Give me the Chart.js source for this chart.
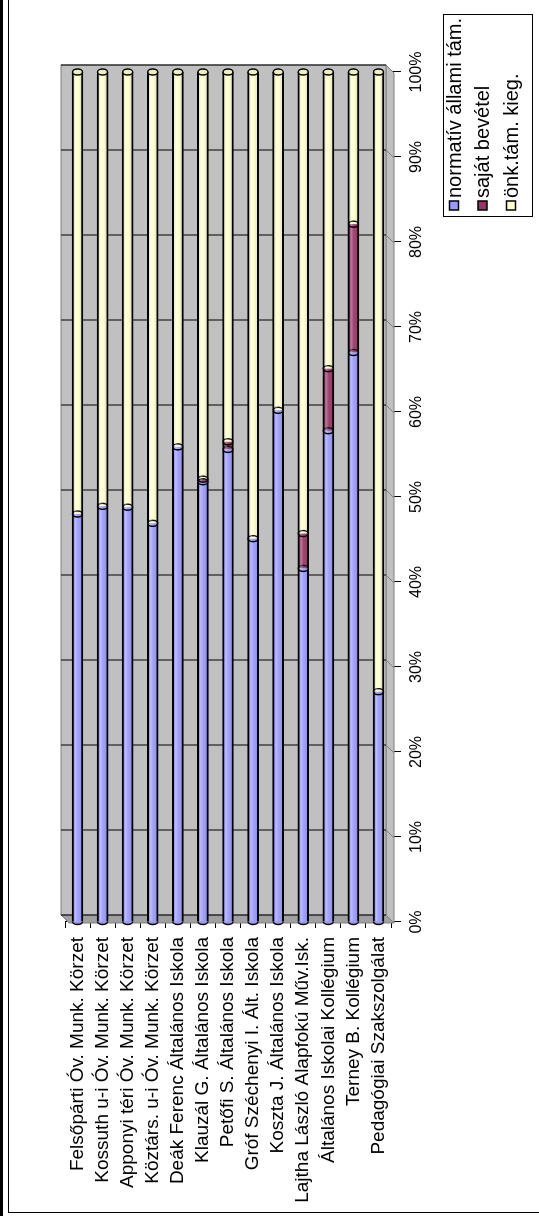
<!DOCTYPE html>
<html>
<head>
<meta charset="utf-8">
<script src="https://cdn.jsdelivr.net/npm/chart.js@4.4.0/dist/chart.umd.min.js"></script>
<style>
  html, body { margin: 0; padding: 0; background: #fff; }
  body { width: 539px; height: 1216px; position: relative; overflow: hidden; }
  #band { position: absolute; left: 0; top: 0; width: 3px; height: 1216px; background: #000; }
  #frame { position: absolute; left: 8px; top: -5px; width: 540px; height: 1218px; box-sizing: border-box;
           border-left: 1.5px solid #000; border-bottom: 1.5px solid #000; }
  #wrap { position: absolute; left: 0; top: 0; width: 1216px; height: 539px;
          transform-origin: 0 0; transform: translate(0, 1216px) rotate(-90deg); }
</style>
</head>
<body>
<div id="band"></div>
<div id="frame"></div>
<div id="wrap"><canvas id="chart"></canvas></div>
<script>
// values (share of each institution's budget, %)
const categories = [
    'Felsőpárti Óv. Munk. Körzet',
    'Kossuth u-i Óv. Munk. Körzet',
    'Apponyi téri Óv. Munk. Körzet',
    'Köztárs. u-i Óv. Munk. Körzet',
    'Deák Ferenc Általános Iskola',
    'Klauzál G. Általános Iskola',
    'Petőfi S. Általános Iskola',
    'Gróf Széchenyi I. Ált. Iskola',
    'Koszta J. Általános Iskola',
    'Lajtha László Alapfokú Műv.Isk.',
    'Általános Iskolai Kollégium',
    'Terney B. Kollégium',
    'Pedagógiai Szakszolgálat'
];
const seriesNames = ['normatív állami tám.', 'saját bevétel', 'önk.tám. kieg.'];
const normativ = [48.0, 48.9, 48.8, 46.9, 55.9, 51.8, 55.6, 45.1, 60.2, 41.6, 57.8, 67.0, 27.1];
const sajat    = [0, 0, 0, 0, 0, 0.3, 0.9, 0, 0, 4.1, 7.3, 15.1, 0];
const onk      = [52.0, 51.1, 51.2, 53.1, 44.1, 47.9, 43.5, 54.9, 39.8, 54.3, 34.9, 17.9, 72.9];
const valueTickLabels = ['0%', '10%', '20%', '30%', '40%', '50%', '60%', '70%', '80%', '90%', '100%'];

const colors = ['#9999FF', '#993366', '#FFFFCC'];
const FAMILY = '"Liberation Sans", Arial, sans-serif';
const LABEL_FONT = { family: FAMILY, size: 19 };
const LEGEND_FONT = { family: FAMILY, size: 20 };
const TICK_FONT = { family: FAMILY, size: 16 };

// the chart is drawn lying on its side and the page turns it, like the scanned sheet

// grey walls of the 3d plot
const wallPlugin = {
    id: 'wall',
    beforeDatasetsDraw(chart) {
        const { ctx, chartArea: a, scales: { x } } = chart;
        const d = 7;
        const u0 = x.getPixelForValue(0), u1 = x.getPixelForValue(100);
        ctx.save();
        // floor
        ctx.fillStyle = '#A0A0A0';
        ctx.beginPath();
        ctx.moveTo(u0 + d, a.top - 4);
        ctx.lineTo(u0 + d, a.bottom - 5);
        ctx.lineTo(u0 - 1, a.bottom + 3);
        ctx.lineTo(u0 - 1, a.top + 4);
        ctx.closePath();
        ctx.fill();
        ctx.strokeStyle = '#808080';
        ctx.lineWidth = 1;
        ctx.stroke();
        // side wall
        ctx.fillStyle = '#C0C0C0';
        ctx.beginPath();
        ctx.moveTo(u0 + d, a.bottom - 5);
        ctx.lineTo(u1 + d, a.bottom - 5);
        ctx.lineTo(u1 - 1, a.bottom + 3);
        ctx.lineTo(u0 - 1, a.bottom + 3);
        ctx.closePath();
        ctx.fill();
        ctx.stroke();
        // back wall
        ctx.fillStyle = '#C0C0C0';
        ctx.fillRect(u0 + d, a.top - 4, u1 - u0, a.bottom - a.top - 1);
        ctx.strokeRect(u0 + d, a.top - 4, u1 - u0, a.bottom - a.top - 1);
        // gridlines
        for (let t = 0; t <= 100; t += 10) {
            const u = x.getPixelForValue(t) + d;
            ctx.strokeStyle = '#000';
            ctx.beginPath();
            ctx.moveTo(u, a.top - 4);
            ctx.lineTo(u, a.bottom - 5);
            ctx.stroke();
            ctx.strokeStyle = '#808080';
            ctx.beginPath();
            ctx.moveTo(u, a.bottom - 5);
            ctx.lineTo(u - d - 1, a.bottom + 3);
            ctx.stroke();
        }
        ctx.restore();
    }
};

// cylinder shading and elliptic ends
const cylinderPlugin = {
    id: 'cylinder',
    afterDatasetsDraw(chart) {
        const ctx = chart.ctx;
        const n = chart.data.datasets.length;
        ctx.save();
        chart.data.datasets.forEach((ds, i) => {
            const meta = chart.getDatasetMeta(i);
            meta.data.forEach((el, j) => {
                if (!ds.data[j]) return;
                const { x, y, base, height } = el.getProps(['x', 'y', 'base', 'height'], true);
                const h = height / 2;
                const g = ctx.createLinearGradient(0, y - h, 0, y + h);
                g.addColorStop(0, 'rgba(0,0,0,0.25)');
                g.addColorStop(0.3, 'rgba(255,255,255,0.35)');
                g.addColorStop(0.55, 'rgba(255,255,255,0.05)');
                g.addColorStop(1, 'rgba(0,0,0,0.3)');
                ctx.fillStyle = g;
                ctx.fillRect(base, y - h + 2, x - base, height - 4);
                ctx.lineWidth = 1.5;
                ctx.strokeStyle = '#000';
                // rounded foot of the first segment
                if (i === 0) {
                    ctx.beginPath();
                    ctx.ellipse(base, y, 3, h - 0.5, 0, Math.PI / 2, Math.PI * 3 / 2);
                    ctx.fillStyle = ds.backgroundColor;
                    ctx.fill();
                    ctx.stroke();
                }
                ctx.beginPath();
                ctx.ellipse(x, y, 3, h - 0.5, 0, 0, Math.PI * 2);
                if (i === n - 1) {
                    ctx.fillStyle = '#EEEEC0';
                    ctx.fill();
                }
                ctx.stroke();
            });
        });
        ctx.restore();
    }
};

// legend box in the corner
const boxLegend = {
    id: 'boxLegend',
    afterDraw(chart) {
        const ctx = chart.ctx;
        const u = 999, v = 443, w = 202, hgt = 89;
        ctx.save();
        ctx.fillStyle = '#fff';
        ctx.fillRect(u, v, w, hgt);
        ctx.strokeStyle = '#000';
        ctx.lineWidth = 1;
        ctx.strokeRect(u + 0.5, v + 0.5, w, hgt);
        ctx.font = LEGEND_FONT.size + 'px ' + LEGEND_FONT.family;
        ctx.textBaseline = 'middle';
        ctx.textAlign = 'left';
        chart.data.datasets.forEach((ds, i) => {
            const cy = v + 11 + i * 28.5;
            ctx.fillStyle = ds.backgroundColor;
            ctx.fillRect(u + 7, cy - 4.5, 9, 9);
            ctx.lineWidth = 1.5;
            ctx.strokeRect(u + 7, cy - 4.5, 9, 9);
            ctx.fillStyle = '#000';
            ctx.fillText(ds.label, u + 19, cy + 1);
        });
        ctx.restore();
    }
};

new Chart(document.getElementById('chart'), {
    type: 'bar',
    data: {
        labels: categories,
        datasets: [
            { label: seriesNames[0], data: normativ, backgroundColor: colors[0] },
            { label: seriesNames[1], data: sajat, backgroundColor: colors[1] },
            { label: seriesNames[2], data: onk, backgroundColor: colors[2] }
        ]
    },
    options: {
        indexAxis: 'y',
        responsive: true,
        maintainAspectRatio: false,
        animation: false,
        layout: { padding: { top: 65, right: 72, left: 0, bottom: 0 } },
        datasets: {
            bar: {
                barThickness: 11,
                borderColor: '#000',
                borderWidth: { top: 2, bottom: 2, left: 0, right: 0 },
                borderSkipped: false
            }
        },
        plugins: { legend: { display: false }, tooltip: { enabled: false } },
        scales: {
            x: {
                stacked: true,
                min: 0,
                max: 100,
                ticks: {
                    stepSize: 10,
                    maxRotation: 0,
                    color: '#000',
                    font: TICK_FONT,
                    padding: 6,
                    callback: (val, i) => valueTickLabels[i]
                },
                grid: { drawOnChartArea: false, tickLength: 10, color: '#000' },
                border: { color: '#000' },
                afterFit: s => { s.height = 148; }
            },
            y: {
                stacked: true,
                ticks: { color: '#000', font: LABEL_FONT, padding: 9, autoSkip: false },
                grid: { drawOnChartArea: false, tickLength: 6, color: '#000', offset: true },
                border: { color: '#000' },
                afterFit: s => { s.width = 294; }
            }
        }
    },
    plugins: [wallPlugin, cylinderPlugin, boxLegend]
});
</script>
</body>
</html>
